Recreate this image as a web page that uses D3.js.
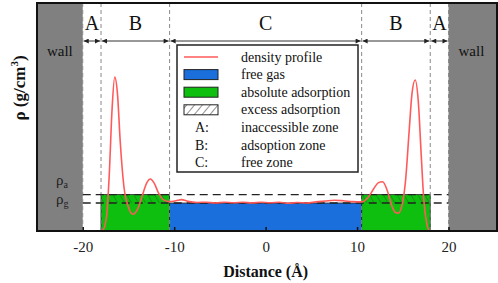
<!DOCTYPE html>
<html>
<head>
<meta charset="utf-8">
<script src="https://cdn.jsdelivr.net/npm/d3@7"></script>
<style>
  body { margin: 0; background: #fff; }
</style>
</head>
<body>
<div id="chart"></div>
<script>
// --- data (rho in units of rho_g) ---
const distance = [-20, -18.2, -17.8, -17.4, -17.1, -16.8, -16.5, -16.2, -15.9, -15.5, -15.0, -14.5, -14.0, -13.5, -13.0, -12.6, -12.2, -11.7, -11.2, -10.5,
  -9.8, -9.2, -8.5, -7.5, -6.5, -5.5, -4.5, -3.5, -2.5, -1.5, -0.5, 0.5, 1.5, 2.5, 3.5, 4.5, 5.5, 6.5, 7.5, 8.5, 9.5, 10.5,
  11.2, 11.8, 12.3, 12.8, 13.3, 13.8, 14.2, 14.5, 14.9, 15.3, 15.7, 16.0, 16.35, 16.7, 17.0, 17.3, 17.6, 17.9, 18.3, 20];
const density = [0, 0, 0.03, 0.5, 2.0, 4.3, 5.5, 4.9, 3.2, 1.6, 0.85, 0.6, 0.78, 1.25, 1.72, 1.86, 1.72, 1.35, 1.12, 1.05,
  1.08, 1.12, 1.06, 1.02, 1.03, 1.0, 1.03, 1.01, 1.03, 1.0, 1.03, 1.01, 1.03, 0.99, 1.02, 1.0, 1.04, 1.07, 1.1, 1.08, 1.05, 1.04,
  1.2, 1.5, 1.72, 1.76, 1.45, 0.9, 0.66, 0.64, 0.9, 1.8, 3.6, 4.9, 5.4, 4.6, 2.8, 1.1, 0.3, 0.02, 0, 0];

const rhoG = 1.0;
const rhoA = 1.3;
const wallPos = 20;
const inaccessibleEdge = 18;
const freeEdge = 10.5;
const xTicks = [-20, -10, 0, 10, 20];
const zoneBounds = [-20, -18, -10.5, 10.5, 18, 20];
const zoneLabels = ["A", "B", "C", "B", "A"];
const legendLabels = ["density profile", "free gas", "absolute adsorption", "excess adsorption", "inaccessible zone", "adsoption zone", "free zone"];
const legendKeys = ["line", "blue", "green", "hatch", "A:", "B:", "C:"];

const W = 498, H = 283;
const pLeft = 37, pRight = 497, pTop = 3, pBottom = 231;

const serif = "'Liberation Serif', 'Times New Roman', Times, 'DejaVu Serif', serif";
const blue = "#1a6fdd";
const green = "#0fbf0f";
const red = "#ff5a5a";

const svg = d3.select("#chart").append("svg")
  .attr("width", W)
  .attr("height", H)
  .style("font-family", serif);

const defs = svg.append("defs");

// hatch pattern
const pat = defs.append("pattern")
  .attr("id", "hatch")
  .attr("patternUnits", "userSpaceOnUse")
  .attr("width", 6)
  .attr("height", 6)
  .attr("patternTransform", "rotate(-30)");
pat.append("line")
  .attr("x1", 0).attr("y1", 0).attr("x2", 0).attr("y2", 6)
  .attr("stroke", "#222").attr("stroke-width", 0.9);

const patL = defs.append("pattern")
  .attr("id", "hatchL")
  .attr("patternUnits", "userSpaceOnUse")
  .attr("width", 6)
  .attr("height", 6)
  .attr("patternTransform", "rotate(40)");
patL.append("line")
  .attr("x1", 0).attr("y1", 0).attr("x2", 0).attr("y2", 6)
  .attr("stroke", "#222").attr("stroke-width", 1);

// arrow heads
["arrowEnd", "arrowStart"].forEach((id, k) => {
  defs.append("marker")
    .attr("id", id)
    .attr("viewBox", "0 0 10 10")
    .attr("refX", k === 0 ? 10 : 0)
    .attr("refY", 5)
    .attr("markerWidth", 7)
    .attr("markerHeight", 5)
    .attr("markerUnits", "userSpaceOnUse")
    .attr("orient", "auto")
    .append("path")
    .attr("d", k === 0 ? "M0,0 L10,5 L0,10 Z" : "M10,0 L0,5 L10,10 Z")
    .attr("fill", "#222");
});

// --- scales ---
const x = d3.scaleLinear().domain([-25, 25.3]).range([pLeft, pRight]);
const y = d3.scaleLinear().domain([0, 8.15]).range([pBottom, pTop]);

// walls
svg.append("rect")
  .attr("x", x(-25)).attr("y", pTop)
  .attr("width", x(-wallPos) - x(-25)).attr("height", pBottom - pTop)
  .attr("fill", "#808080");
svg.append("rect")
  .attr("x", x(wallPos)).attr("y", pTop)
  .attr("width", x(25.3) - x(wallPos)).attr("height", pBottom - pTop)
  .attr("fill", "#808080");

svg.selectAll("text.wall")
  .data([-22.5, 22.5])
  .join("text")
  .attr("class", "wall")
  .attr("x", d => x(d))
  .attr("y", 56)
  .attr("text-anchor", "middle")
  .attr("font-size", "15px")
  .attr("fill", "#111")
  .text("wall");

// absolute adsorption (green) + free gas (blue)
svg.selectAll("rect.ads")
  .data([[-inaccessibleEdge, -freeEdge], [freeEdge, inaccessibleEdge]])
  .join("rect")
  .attr("class", "ads")
  .attr("x", d => x(d[0]))
  .attr("y", y(rhoA))
  .attr("width", d => x(d[1]) - x(d[0]))
  .attr("height", y(0) - y(rhoA))
  .attr("fill", green)
  .attr("stroke", "#222")
  .attr("stroke-width", 0.8);

svg.selectAll("rect.hatch")
  .data([[-inaccessibleEdge, -freeEdge], [freeEdge, inaccessibleEdge]])
  .join("rect")
  .attr("class", "hatch")
  .attr("x", d => x(d[0]))
  .attr("y", y(rhoA))
  .attr("width", d => x(d[1]) - x(d[0]))
  .attr("height", y(rhoG) - y(rhoA))
  .attr("fill", "url(#hatch)")
  .attr("opacity", 0.6);

svg.append("rect")
  .attr("x", x(-freeEdge))
  .attr("y", y(rhoG))
  .attr("width", x(freeEdge) - x(-freeEdge))
  .attr("height", y(0) - y(rhoG))
  .attr("fill", blue)
  .attr("stroke", "#222")
  .attr("stroke-width", 0.8);

// vertical dashed zone lines
svg.selectAll("line.zone")
  .data([-20, -18, -10.5, 10.5, 18, 20])
  .join("line")
  .attr("class", "zone")
  .attr("x1", d => x(d)).attr("x2", d => x(d))
  .attr("y1", pTop).attr("y2", pBottom)
  .attr("stroke", "#8a8a8a")
  .attr("stroke-width", 1)
  .attr("stroke-dasharray", "4,3");

// rho_a / rho_g dashed lines
svg.selectAll("line.rho")
  .data([rhoA, rhoG])
  .join("line")
  .attr("class", "rho")
  .attr("x1", x(-wallPos)).attr("x2", x(wallPos))
  .attr("y1", d => y(d)).attr("y2", d => y(d))
  .attr("stroke", "#222")
  .attr("stroke-width", 1.4)
  .attr("stroke-dasharray", "8,5");

// density profile
const pts = distance.map((d, i) => [d, density[i]]);
svg.append("path")
  .datum(pts)
  .attr("fill", "none")
  .attr("stroke", red)
  .attr("stroke-width", 1.6)
  .attr("d", d3.line().x(d => x(d[0])).y(d => y(d[1])).curve(d3.curveMonotoneX));

// zone arrows and letters
const arrowY = 41;
const segs = d3.pairs(zoneBounds);
svg.selectAll("line.arrow")
  .data(segs)
  .join("line")
  .attr("class", "arrow")
  .attr("x1", d => x(d[0]) + 1).attr("x2", d => x(d[1]) - 1)
  .attr("y1", arrowY).attr("y2", arrowY)
  .attr("stroke", "#333")
  .attr("stroke-width", 1)
  .attr("marker-start", "url(#arrowStart)")
  .attr("marker-end", "url(#arrowEnd)");

svg.selectAll("text.zoneLabel")
  .data(segs)
  .join("text")
  .attr("class", "zoneLabel")
  .attr("x", d => x((d[0] + d[1]) / 2))
  .attr("y", 30)
  .attr("text-anchor", "middle")
  .attr("font-size", "20px")
  .attr("fill", "#111")
  .text((d, i) => zoneLabels[i]);

// rho labels
const rhoLab = svg.append("g").attr("font-size", "15px").attr("fill", "#222");
[["a", rhoA, -10], ["g", rhoG, 1]].forEach(([sub, v, dy]) => {
  const t = rhoLab.append("text")
    .attr("x", 56)
    .attr("y", y(v) + dy);
  t.append("tspan").text("ρ");
  t.append("tspan").attr("font-size", "10px").attr("dy", 3).text(sub);
});

// legend
const lg = svg.append("g");
lg.append("rect")
  .attr("x", 177).attr("y", 45)
  .attr("width", 181).attr("height", 127)
  .attr("fill", "#fff")
  .attr("stroke", "#222")
  .attr("stroke-width", 1.5);

const rowY = i => 57 + i * 17.6;
legendKeys.forEach((k, i) => {
  const cy = rowY(i);
  if (k === "line") {
    lg.append("line")
      .attr("x1", 184).attr("x2", 218)
      .attr("y1", cy).attr("y2", cy)
      .attr("stroke", red).attr("stroke-width", 1.6);
  } else if (k === "blue" || k === "green" || k === "hatch") {
    lg.append("rect")
      .attr("x", 184).attr("y", cy - 5)
      .attr("width", 34).attr("height", 10)
      .attr("fill", k === "blue" ? blue : k === "green" ? green : "url(#hatchL)")
      .attr("stroke", "#222")
      .attr("stroke-width", 1);
  } else {
    lg.append("text")
      .attr("x", 195).attr("y", cy + 4.5)
      .attr("font-size", "14px")
      .attr("fill", "#111")
      .text(k);
  }
  lg.append("text")
    .attr("x", 241).attr("y", cy + 4.5)
    .attr("font-size", "14px")
    .attr("fill", "#111")
    .text(legendLabels[i]);
});

// frame
svg.append("rect")
  .attr("x", pLeft).attr("y", pTop)
  .attr("width", pRight - pLeft).attr("height", pBottom - pTop)
  .attr("fill", "none")
  .attr("stroke", "#111")
  .attr("stroke-width", 2);

// x axis
const xAxis = svg.append("g")
  .attr("transform", `translate(0,${pBottom})`)
  .call(d3.axisBottom(x).tickValues(xTicks).tickSize(-4).tickPadding(10).tickFormat(d3.format("d")));
xAxis.attr("font-family", null);
xAxis.select(".domain").remove();
xAxis.selectAll("line").attr("stroke", "#111").attr("stroke-width", 1.5);
xAxis.selectAll("text")
  .attr("font-size", "15px")
  .attr("fill", "#222")
  .text(d => d < 0 ? "-" + Math.abs(d) : d);

svg.append("text")
  .attr("x", x(0))
  .attr("y", 277)
  .attr("text-anchor", "middle")
  .attr("font-size", "16px")
  .attr("font-weight", "bold")
  .attr("fill", "#111")
  .text("Distance (Å)");

const yt = svg.append("text")
  .attr("transform", "translate(25,88) rotate(-90)")
  .attr("text-anchor", "middle")
  .attr("font-size", "17px")
  .attr("font-weight", "bold")
  .attr("fill", "#111");
yt.append("tspan").text("ρ (g/cm");
yt.append("tspan").attr("font-size", "11px").attr("dy", -7).text("3");
yt.append("tspan").attr("dy", 7).text(")");
</script>
</body>
</html>
